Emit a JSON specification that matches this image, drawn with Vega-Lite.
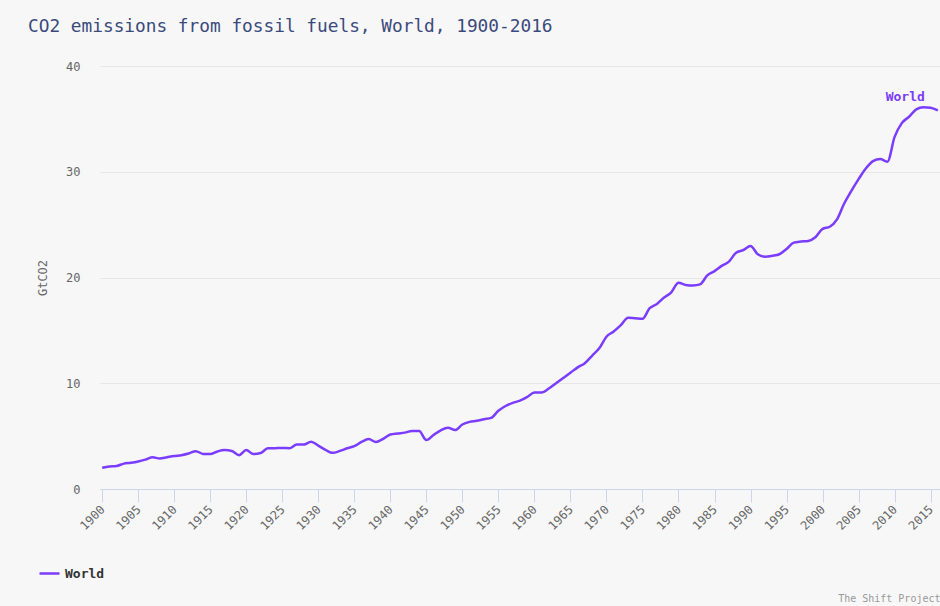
{
  "$schema": "https://vega.github.io/schema/vega-lite/v6.json",
  "width": 840,
  "height": 423,
  "autosize": {"type": "none"},
  "padding": {"left": 100, "top": 66, "right": 0, "bottom": 117},
  "background": "#f7f7f7",
  "title": {
    "text": "CO2 emissions from fossil fuels, World, 1900-2016",
    "anchor": "start",
    "frame": "group",
    "dx": -72,
    "offset": 24,
    "font": "DejaVu Sans Mono",
    "fontSize": 17.8,
    "fontWeight": "normal",
    "color": "#3b4a7c"
  },
  "config": {
    "view": {"stroke": null},
    "font": "DejaVu Sans Mono"
  },
  "data": {
    "values": [
      {"year": 1900, "value": 2.0, "series": "World"},
      {"year": 1901, "value": 2.12, "series": "World"},
      {"year": 1902, "value": 2.17, "series": "World"},
      {"year": 1903, "value": 2.4, "series": "World"},
      {"year": 1904, "value": 2.48, "series": "World"},
      {"year": 1905, "value": 2.6, "series": "World"},
      {"year": 1906, "value": 2.78, "series": "World"},
      {"year": 1907, "value": 3.0, "series": "World"},
      {"year": 1908, "value": 2.88, "series": "World"},
      {"year": 1909, "value": 3.0, "series": "World"},
      {"year": 1910, "value": 3.12, "series": "World"},
      {"year": 1911, "value": 3.2, "series": "World"},
      {"year": 1912, "value": 3.35, "series": "World"},
      {"year": 1913, "value": 3.58, "series": "World"},
      {"year": 1914, "value": 3.32, "series": "World"},
      {"year": 1915, "value": 3.3, "series": "World"},
      {"year": 1916, "value": 3.55, "series": "World"},
      {"year": 1917, "value": 3.68, "series": "World"},
      {"year": 1918, "value": 3.6, "series": "World"},
      {"year": 1919, "value": 3.2, "series": "World"},
      {"year": 1920, "value": 3.68, "series": "World"},
      {"year": 1921, "value": 3.3, "series": "World"},
      {"year": 1922, "value": 3.4, "series": "World"},
      {"year": 1923, "value": 3.85, "series": "World"},
      {"year": 1924, "value": 3.86, "series": "World"},
      {"year": 1925, "value": 3.88, "series": "World"},
      {"year": 1926, "value": 3.86, "series": "World"},
      {"year": 1927, "value": 4.2, "series": "World"},
      {"year": 1928, "value": 4.2, "series": "World"},
      {"year": 1929, "value": 4.47, "series": "World"},
      {"year": 1930, "value": 4.1, "series": "World"},
      {"year": 1931, "value": 3.7, "series": "World"},
      {"year": 1932, "value": 3.42, "series": "World"},
      {"year": 1933, "value": 3.6, "series": "World"},
      {"year": 1934, "value": 3.85, "series": "World"},
      {"year": 1935, "value": 4.05, "series": "World"},
      {"year": 1936, "value": 4.45, "series": "World"},
      {"year": 1937, "value": 4.72, "series": "World"},
      {"year": 1938, "value": 4.45, "series": "World"},
      {"year": 1939, "value": 4.75, "series": "World"},
      {"year": 1940, "value": 5.15, "series": "World"},
      {"year": 1941, "value": 5.25, "series": "World"},
      {"year": 1942, "value": 5.33, "series": "World"},
      {"year": 1943, "value": 5.48, "series": "World"},
      {"year": 1944, "value": 5.48, "series": "World"},
      {"year": 1945, "value": 4.63, "series": "World"},
      {"year": 1946, "value": 5.1, "series": "World"},
      {"year": 1947, "value": 5.55, "series": "World"},
      {"year": 1948, "value": 5.8, "series": "World"},
      {"year": 1949, "value": 5.58, "series": "World"},
      {"year": 1950, "value": 6.1, "series": "World"},
      {"year": 1951, "value": 6.35, "series": "World"},
      {"year": 1952, "value": 6.45, "series": "World"},
      {"year": 1953, "value": 6.6, "series": "World"},
      {"year": 1954, "value": 6.72, "series": "World"},
      {"year": 1955, "value": 7.4, "series": "World"},
      {"year": 1956, "value": 7.85, "series": "World"},
      {"year": 1957, "value": 8.15, "series": "World"},
      {"year": 1958, "value": 8.35, "series": "World"},
      {"year": 1959, "value": 8.7, "series": "World"},
      {"year": 1960, "value": 9.12, "series": "World"},
      {"year": 1961, "value": 9.12, "series": "World"},
      {"year": 1962, "value": 9.5, "series": "World"},
      {"year": 1963, "value": 10.0, "series": "World"},
      {"year": 1964, "value": 10.5, "series": "World"},
      {"year": 1965, "value": 11.0, "series": "World"},
      {"year": 1966, "value": 11.5, "series": "World"},
      {"year": 1967, "value": 11.9, "series": "World"},
      {"year": 1968, "value": 12.6, "series": "World"},
      {"year": 1969, "value": 13.3, "series": "World"},
      {"year": 1970, "value": 14.4, "series": "World"},
      {"year": 1971, "value": 14.9, "series": "World"},
      {"year": 1972, "value": 15.5, "series": "World"},
      {"year": 1973, "value": 16.2, "series": "World"},
      {"year": 1974, "value": 16.15, "series": "World"},
      {"year": 1975, "value": 16.1, "series": "World"},
      {"year": 1976, "value": 17.1, "series": "World"},
      {"year": 1977, "value": 17.5, "series": "World"},
      {"year": 1978, "value": 18.1, "series": "World"},
      {"year": 1979, "value": 18.6, "series": "World"},
      {"year": 1980, "value": 19.5, "series": "World"},
      {"year": 1981, "value": 19.3, "series": "World"},
      {"year": 1982, "value": 19.25, "series": "World"},
      {"year": 1983, "value": 19.35, "series": "World"},
      {"year": 1984, "value": 20.2, "series": "World"},
      {"year": 1985, "value": 20.6, "series": "World"},
      {"year": 1986, "value": 21.1, "series": "World"},
      {"year": 1987, "value": 21.5, "series": "World"},
      {"year": 1988, "value": 22.35, "series": "World"},
      {"year": 1989, "value": 22.6, "series": "World"},
      {"year": 1990, "value": 22.98, "series": "World"},
      {"year": 1991, "value": 22.2, "series": "World"},
      {"year": 1992, "value": 21.97, "series": "World"},
      {"year": 1993, "value": 22.05, "series": "World"},
      {"year": 1994, "value": 22.2, "series": "World"},
      {"year": 1995, "value": 22.7, "series": "World"},
      {"year": 1996, "value": 23.3, "series": "World"},
      {"year": 1997, "value": 23.4, "series": "World"},
      {"year": 1998, "value": 23.45, "series": "World"},
      {"year": 1999, "value": 23.8, "series": "World"},
      {"year": 2000, "value": 24.6, "series": "World"},
      {"year": 2001, "value": 24.8, "series": "World"},
      {"year": 2002, "value": 25.5, "series": "World"},
      {"year": 2003, "value": 27.0, "series": "World"},
      {"year": 2004, "value": 28.2, "series": "World"},
      {"year": 2005, "value": 29.3, "series": "World"},
      {"year": 2006, "value": 30.3, "series": "World"},
      {"year": 2007, "value": 31.0, "series": "World"},
      {"year": 2008, "value": 31.2, "series": "World"},
      {"year": 2009, "value": 30.95, "series": "World"},
      {"year": 2010, "value": 33.3, "series": "World"},
      {"year": 2011, "value": 34.6, "series": "World"},
      {"year": 2012, "value": 35.2, "series": "World"},
      {"year": 2013, "value": 35.9, "series": "World"},
      {"year": 2014, "value": 36.1, "series": "World"},
      {"year": 2015, "value": 36.05, "series": "World"},
      {"year": 2016, "value": 35.8, "series": "World"}
    ]
  },
  "encoding": {
    "x": {
      "field": "year",
      "type": "quantitative",
      "scale": {"domain": [1899.7, 2016.3], "nice": false, "zero": false},
      "axis": {
        "values": [1900,1905,1910,1915,1920,1925,1930,1935,1940,1945,1950,1955,1960,1965,1970,1975,1980,1985,1990,1995,2000,2005,2010,2015],
        "format": "d",
        "labelAngle": -45,
        "labelAlign": "right",
        "labelBaseline": "middle",
        "labelFontSize": 12,
        "labelColor": "#666666",
        "labelPadding": 5,
        "tickColor": "#ccd6eb",
        "tickSize": 13,
        "domainColor": "#ccd6eb",
        "grid": false,
        "labelOverlap": false,
        "labelFlush": false,
        "title": "The Shift Project",
        "titleAnchor": "end",
        "titleAlign": "right",
        "titleBaseline": "bottom",
        "titleX": 840,
        "titleY": 114,
        "titleFontSize": 10,
        "titleFontWeight": "normal",
        "titleColor": "#999999"
      }
    },
    "y": {
      "field": "value",
      "type": "quantitative",
      "scale": {"domain": [0, 40], "nice": false},
      "axis": {
        "values": [0, 10, 20, 30, 40],
        "title": "GtCO2",
        "titleFontSize": 12,
        "titleFontWeight": "normal",
        "titleColor": "#666666",
        "titlePadding": 16,
        "labelFontSize": 12,
        "labelColor": "#666666",
        "labelPadding": 20,
        "ticks": false,
        "domain": false,
        "gridColor": "#e6e6e6"
      }
    }
  },
  "layer": [
    {
      "mark": {"type": "line", "interpolate": "monotone", "strokeWidth": 2.5},
      "encoding": {
        "color": {
          "field": "series",
          "type": "nominal",
          "scale": {"range": ["#7a3cff"]},
          "legend": {
            "title": null,
            "orient": "none",
            "legendX": -62,
            "legendY": 496,
            "symbolType": "stroke",
            "symbolSize": 400,
            "symbolStrokeWidth": 2.5,
            "labelFontSize": 13,
            "labelFontWeight": "bold",
            "labelColor": "#333333"
          }
        }
      }
    },
    {
      "transform": [{"filter": "datum.year == 2016"}],
      "mark": {
        "type": "text",
        "align": "right",
        "baseline": "middle",
        "dx": -13,
        "dy": -13,
        "fontSize": 13,
        "fontWeight": "bold",
        "color": "#7a3cff"
      },
      "encoding": {
        "text": {"field": "series"}
      }
    }
  ]
}
